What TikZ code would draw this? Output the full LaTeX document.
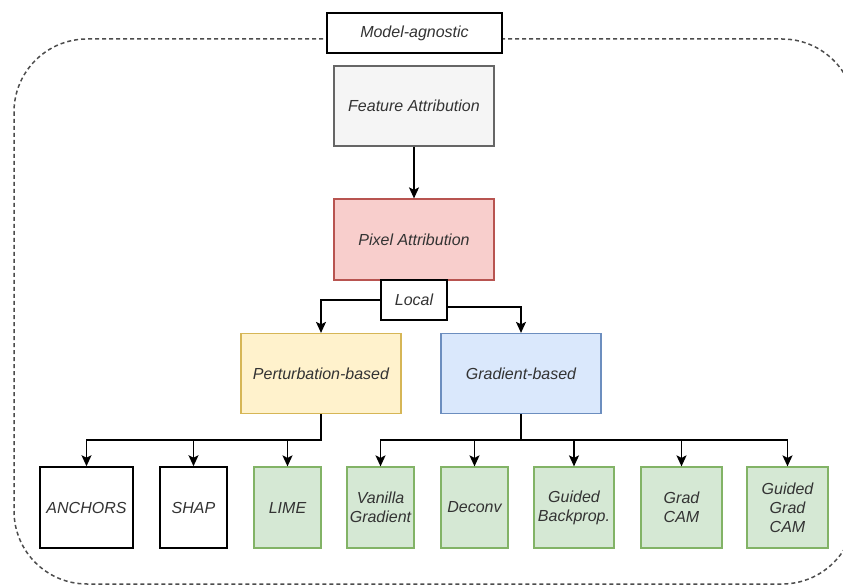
\documentclass[tikz,border=0pt]{standalone}
\usepackage{fontspec}
\setmainfont{Liberation Sans}
\usetikzlibrary{arrows.meta}
\definecolor{txt}{HTML}{333333}
\definecolor{grayfill}{HTML}{F5F5F5}
\definecolor{graydraw}{HTML}{666666}
\definecolor{redfill}{HTML}{F8CECC}
\definecolor{reddraw}{HTML}{B85450}
\definecolor{yelfill}{HTML}{FFF2CC}
\definecolor{yeldraw}{HTML}{D6B656}
\definecolor{bluefill}{HTML}{DAE8FC}
\definecolor{bluedraw}{HTML}{6C8EBF}
\definecolor{grnfill}{HTML}{D5E8D4}
\definecolor{grndraw}{HTML}{82B366}
\tikzset{
  box/.style={draw=black, fill=white, line width=1.6pt, inner sep=0pt,
    align=center, text=txt,
    font=\fontsize{16}{19}\selectfont\itshape},
  graybox/.style={box, draw=graydraw, fill=grayfill, line width=1.2pt},
  redbox/.style={box, draw=reddraw, fill=redfill, line width=1.2pt},
  yelbox/.style={box, draw=yeldraw, fill=yelfill, line width=1.2pt},
  bluebox/.style={box, draw=bluedraw, fill=bluefill, line width=1.2pt},
  grnbox/.style={box, draw=grndraw, fill=grnfill, line width=1.2pt},
  arr/.style={draw=black, line width=1.6pt,
    -{Stealth[length=11pt,width=10pt,inset=2.5pt]}},
  region/.style={draw=black!70, line width=1.5pt, dash pattern=on 4pt off 3pt,
    rounded corners=73pt}
}
\begin{document}
\begin{tikzpicture}[x=1pt,y=-1pt]
\useasboundingbox (0,0) rectangle (843,585);
\begin{scope}
  \clip (0,0) rectangle (843,585);
  \draw[region] (14,39) rectangle (855,584);
\end{scope}

% top of the hierarchy
\node[box, minimum width=175pt, minimum height=40pt] (MA) at (414.5,33) {Model-agnostic};
\node[graybox, minimum width=160pt, minimum height=80pt] (FA) at (414,106) {Feature Attribution};
\node[redbox, minimum width=160pt, minimum height=81pt] (PA) at (414,239.5) {Pixel Attribution};
\node[box, minimum width=66pt, minimum height=40pt] (LOC) at (414,300) {Local};

% method families
\node[yelbox, minimum width=160pt, minimum height=80pt] (PB) at (321,373.5) {Perturbation-based};
\node[bluebox, minimum width=160pt, minimum height=80pt] (GB) at (521,373.5) {Gradient-based};

% individual methods
\node[box, minimum width=93pt, minimum height=81pt] (ANC) at (86.5,507.5) {ANCHORS};
\node[box, minimum width=67pt, minimum height=81pt] (SHAP) at (193.5,507.5) {SHAP};
\node[grnbox, minimum width=67pt, minimum height=81pt] (LIME) at (287.5,507.5) {LIME};
\node[grnbox, minimum width=67pt, minimum height=81pt] (VG) at (380.5,507.5) {Vanilla\\Gradient};
\node[grnbox, minimum width=67pt, minimum height=81pt] (DEC) at (474.5,507.5) {Deconv};
\node[grnbox, minimum width=80pt, minimum height=81pt] (GBP) at (574,507.5) {Guided\\Backprop.};
\node[grnbox, minimum width=81pt, minimum height=81pt] (GC) at (681.5,507.5) {Grad\\CAM};
\node[grnbox, minimum width=81pt, minimum height=81pt] (GGC) at (787.5,507.5) {Guided\\Grad\\CAM};

% connectors
\draw[arr] (FA.south) -- (PA.north);
\draw[arr] (LOC.west) -| (PB.north);
\draw[arr] ([yshift=-7pt]LOC.east) -| (GB.north);

\foreach \t in {ANC,SHAP,LIME}
  \draw[arr] (PB.south) -- ++(0,26) -| (\t.north);
\foreach \t in {VG,DEC,GBP,GC,GGC}
  \draw[arr] (GB.south) -- ++(0,26) -| (\t.north);
\end{tikzpicture}
\end{document}
